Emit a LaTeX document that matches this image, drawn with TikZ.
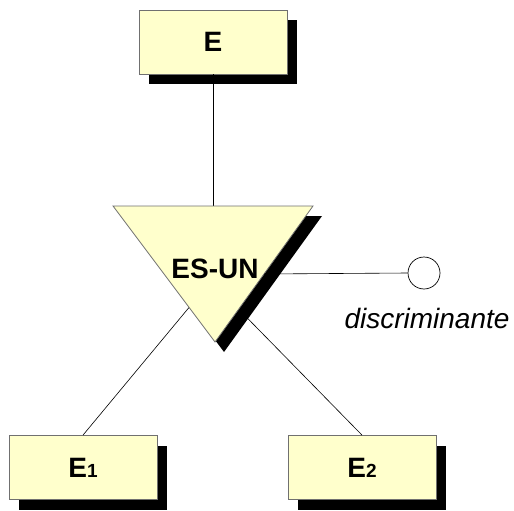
\documentclass[tikz,border=0pt]{standalone}
\usepackage{fontspec}
\setmainfont{Liberation Sans}
\usetikzlibrary{shadows}
\definecolor{entfill}{HTML}{FFFFCC}
\definecolor{entline}{HTML}{707070}
\begin{document}
\begin{tikzpicture}[x=1pt,y=-1pt,
  ent/.style={draw=entline, line width=0.8pt, fill=entfill, minimum width=148pt, minimum height=64pt, inner sep=0pt,
    font=\fontsize{28}{28}\selectfont\bfseries,
    drop shadow={shadow xshift=10pt, shadow yshift=-10pt, fill=black, opacity=1}},
  conn/.style={draw=black, line width=0.6pt}]
\useasboundingbox (0,0) rectangle (514,511);
% coordinates of the triangle
\coordinate (tl) at (113,206);
\coordinate (tr) at (313,206);
\coordinate (ap) at (215,342);
\coordinate (tc) at (213,206);
\coordinate (mid) at (211,281);
\coordinate (re) at (264,274);
% entities
\node[ent] (E) at (213,42) {E};
\node[ent] (E1) at (83,467.5) {E{\fontsize{19}{19}\selectfont 1}};
\node[ent] (E2) at (362,467.5) {E{\fontsize{19}{19}\selectfont 2}};
% connectors behind triangle
\draw[conn] (E.south) -- (tc);
\draw[conn] (mid) -- (E1.north);
\draw[conn] (mid) -- (E2.north);
% triangle shadow and triangle
\fill[black] ([shift={(9,10)}]tl) -- ([shift={(9,10)}]tr) -- ([shift={(9,10)}]ap) -- cycle;
\filldraw[fill=entfill, draw=entline, line width=0.8pt] (tl) -- (tr) -- (ap) -- cycle;
\node[font=\fontsize{28}{28}\selectfont\bfseries] (isa) at (215,268.5) {ES-UN};
% discriminant
\node[circle, draw=black, line width=0.7pt, fill=white, minimum size=32pt, inner sep=0pt] (disc) at (424,273) {};
\draw[conn] (re) -- (disc.west);
\node[anchor=base, font=\fontsize{28}{28}\selectfont\itshape] (lbl) at (427,328) {discriminante};
\end{tikzpicture}
\end{document}
